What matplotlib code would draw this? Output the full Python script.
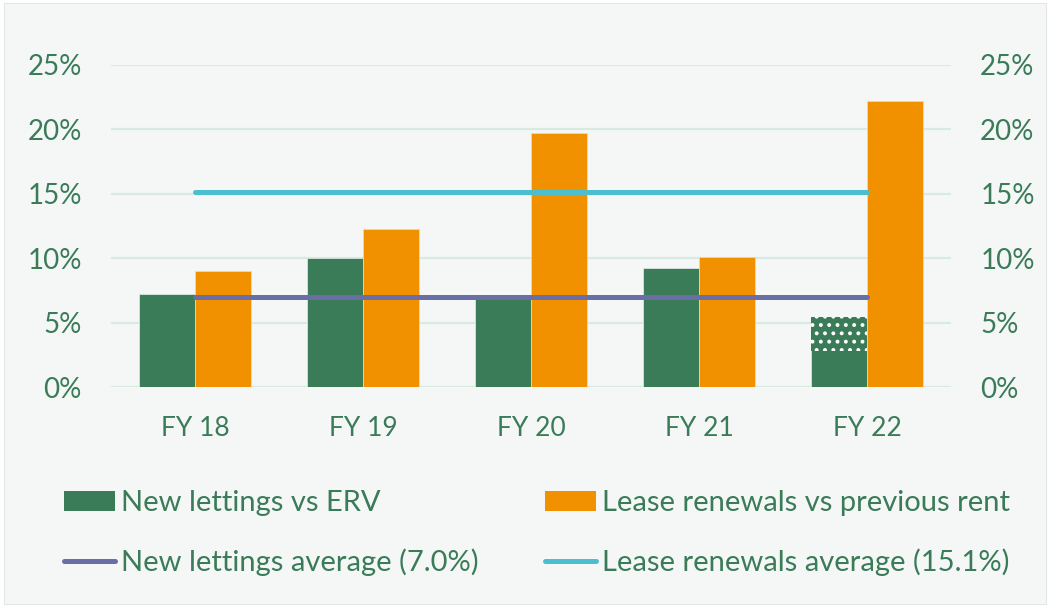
import matplotlib.pyplot as plt
from matplotlib.patches import Rectangle, Patch
from matplotlib.lines import Line2D
import numpy as np

plt.rcParams['font.family'] = ['Lato', 'DejaVu Sans']
plt.rcParams['hatch.linewidth'] = 1.6

years = ["FY 18", "FY 19", "FY 20", "FY 21", "FY 22"]
new_lettings = [7.2, 10.0, 6.9, 9.2, 5.4]
lease_renewals = [9.0, 12.3, 19.7, 10.1, 22.2]
new_avg = 7.0
lease_avg = 15.1
# FY 22 new lettings bar: dotted part sits on top of this level
fy22_dotted_from = 2.8

green = "#3a7b58"
orange = "#f29100"
purple = "#6a6ea5"
cyan = "#4cbfcf"
txt = "#3a7b58"

fig = plt.figure(figsize=(10.49, 6.07), dpi=100, facecolor="white")
fig.patches.append(Rectangle((0.004, 0.005), 0.993, 0.99, transform=fig.transFigure,
                             facecolor="#f5f7f7", edgecolor="#e4e6e6", lw=0.8, zorder=-10))

ax = fig.add_axes([0.1058, 0.3624, 0.8008, 0.5306])
ax.set_facecolor("none")
x = np.arange(len(years))
w = 1 / 3

ax.bar(x - w / 2, new_lettings, w, color=green, edgecolor="#e8f0ec", lw=0.5, zorder=2)
ax.bar(x + w / 2, lease_renewals, w, color=orange, edgecolor="#f8d9a8", lw=0.5, zorder=2)
# dotted top of the FY 22 new lettings bar
ax.bar(x[-1] - w / 2, new_lettings[-1] - fy22_dotted_from, w, bottom=fy22_dotted_from,
       color=green, edgecolor="white", lw=0, hatch="..", zorder=3)

ax.plot(x, [new_avg] * len(x), color=purple, lw=3.6, solid_capstyle="round", zorder=4)
ax.plot(x, [lease_avg] * len(x), color=cyan, lw=3.6, solid_capstyle="round", zorder=4)

ax.set_xlim(-0.5, 4.5)
ax.set_ylim(0, 25)
ax.set_yticks(range(0, 26, 5))
ax.set_yticklabels([f"{v}%" for v in range(0, 26, 5)])
ax.set_xticks(x)
ax.set_xticklabels(years)
ax.grid(axis="y", color="#d8ebe0", lw=1.6, zorder=0)
ax.set_axisbelow(True)
for s in ax.spines.values():
    s.set_visible(False)
ax.tick_params(axis="y", length=0, pad=21, labelsize=20, labelcolor=txt)
ax.tick_params(axis="x", length=0, pad=21, labelsize=19, labelcolor=txt)

ax2 = ax.twinx()
ax2.set_ylim(0, 25)
ax2.set_yticks(range(0, 26, 5))
ax2.set_yticklabels([f"{v}%" for v in range(0, 26, 5)])
for s in ax2.spines.values():
    s.set_visible(False)
ax2.tick_params(axis="y", length=0, pad=21, labelsize=20, labelcolor=txt)

handles = [
    Patch(facecolor=green, edgecolor="none"),
    Line2D([], [], color=purple, lw=3.6, solid_capstyle="round"),
    Patch(facecolor=orange, edgecolor="none"),
    Line2D([], [], color=cyan, lw=3.6, solid_capstyle="round"),
]
labels = ["New lettings vs ERV", "New lettings average (7.0%)",
          "Lease renewals vs previous rent", "Lease renewals average (15.1%)"]
leg = fig.legend(handles, labels, ncol=2, loc="center", bbox_to_anchor=(0.512, 0.122),
                 frameon=False, fontsize=21, handlelength=1.75, handletextpad=0.2,
                 columnspacing=2.3, labelspacing=1.1, labelcolor=txt)

fig.savefig("out.png", dpi=100, facecolor="white")
